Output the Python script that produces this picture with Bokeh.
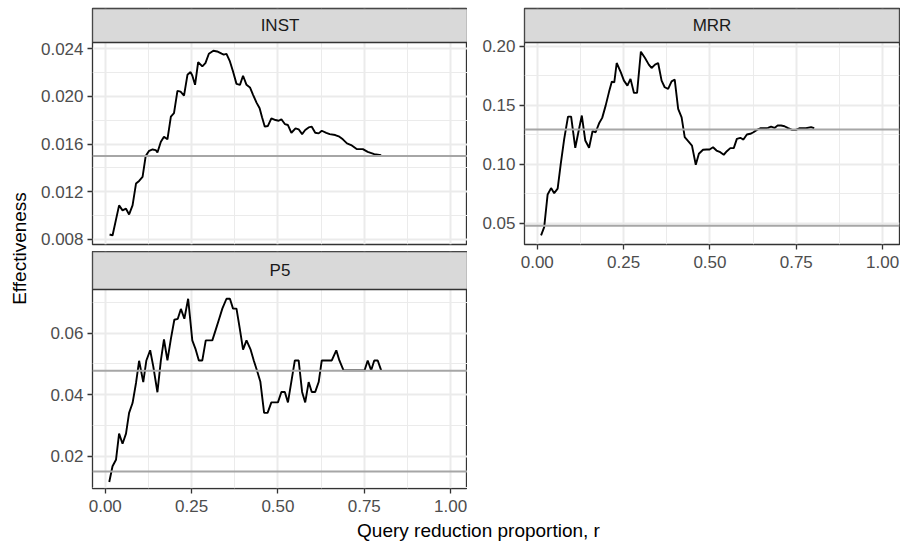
import math
from bokeh.plotting import figure
from bokeh.layouts import row, column
from bokeh.models import Range1d, FixedTicker, PrintfTickFormatter, Span
from bokeh.core.properties import value
from bokeh.embed import file_html
from bokeh.resources import INLINE

# ---------------- data ----------------
panel_names = ["INST", "MRR", "P5"]
x_ticks = [0.0, 0.25, 0.5, 0.75, 1.0]
x_minor = [0.125, 0.375, 0.625, 0.875]

inst_r = [0.0125, 0.021, 0.040, 0.050, 0.060, 0.069, 0.079, 0.089, 0.098, 0.108,
          0.117, 0.127, 0.137, 0.146, 0.151, 0.161, 0.170, 0.180, 0.190, 0.199,
          0.209, 0.218, 0.228, 0.238, 0.247, 0.252, 0.260, 0.269, 0.281, 0.290,
          0.300, 0.313, 0.324, 0.337, 0.343, 0.351, 0.361, 0.370, 0.380, 0.390,
          0.399, 0.409, 0.419, 0.428, 0.438, 0.447, 0.454, 0.462, 0.471, 0.481,
          0.493, 0.502, 0.510, 0.520, 0.529, 0.539, 0.551, 0.560, 0.570, 0.579,
          0.589, 0.598, 0.608, 0.618, 0.627, 0.640, 0.650, 0.666, 0.678, 0.688,
          0.700, 0.712, 0.728, 0.746, 0.760, 0.779, 0.799]
inst_v = [0.00842, 0.00834, 0.01086, 0.01044, 0.01058, 0.01010, 0.01086, 0.01269, 0.01291, 0.01325,
          0.01500, 0.01544, 0.01555, 0.01550, 0.01530, 0.01620, 0.01662, 0.01640, 0.01830, 0.01859,
          0.02046, 0.02040, 0.02007, 0.02181, 0.02204, 0.02175, 0.02097, 0.02288, 0.02251, 0.02279,
          0.02358, 0.02383, 0.02377, 0.02358, 0.02350, 0.02356, 0.02293, 0.02209, 0.02105, 0.02097,
          0.02173, 0.02097, 0.02075, 0.02013, 0.01948, 0.01900, 0.01825, 0.01746, 0.01752, 0.01816,
          0.01802, 0.01796, 0.01808, 0.01768, 0.01760, 0.01695, 0.01732, 0.01724, 0.01684, 0.01718,
          0.01740, 0.01746, 0.01695, 0.01690, 0.01712, 0.01695, 0.01684, 0.01676, 0.01662, 0.01640,
          0.01606, 0.01592, 0.01558, 0.01558, 0.01535, 0.01516, 0.01507]

mrr_r = [0.011, 0.020, 0.030, 0.040, 0.049, 0.059, 0.068, 0.078, 0.089, 0.098,
         0.110, 0.119, 0.129, 0.139, 0.150, 0.160, 0.169, 0.179, 0.188, 0.198,
         0.208, 0.216, 0.223, 0.230, 0.242, 0.251, 0.261, 0.270, 0.280, 0.289,
         0.300, 0.312, 0.323, 0.331, 0.341, 0.350, 0.360, 0.369, 0.379, 0.389,
         0.398, 0.408, 0.418, 0.427, 0.437, 0.448, 0.459, 0.468, 0.480, 0.490,
         0.499, 0.509, 0.519, 0.530, 0.540, 0.549, 0.559, 0.569, 0.578, 0.588,
         0.597, 0.607, 0.617, 0.626, 0.636, 0.646, 0.658, 0.668, 0.677, 0.687,
         0.696, 0.706, 0.716, 0.725, 0.738, 0.749, 0.759, 0.778, 0.793, 0.802]
mrr_v = [0.0396, 0.0466, 0.0743, 0.0797, 0.0754, 0.0792, 0.1003, 0.1215, 0.1404, 0.1404,
         0.1139, 0.1271, 0.1413, 0.1201, 0.1139, 0.1280, 0.1271, 0.1347, 0.1393, 0.1497,
         0.1616, 0.1701, 0.1695, 0.1859, 0.1780, 0.1709, 0.1667, 0.1724, 0.1605, 0.1605,
         0.1955, 0.1902, 0.1845, 0.1817, 0.1845, 0.1859, 0.1709, 0.1653, 0.1639, 0.1703,
         0.1718, 0.1470, 0.1398, 0.1229, 0.1195, 0.1158, 0.0995, 0.1088, 0.1122, 0.1125,
         0.1125, 0.1144, 0.1116, 0.1102, 0.1080, 0.1110, 0.1136, 0.1136, 0.1215, 0.1224,
         0.1209, 0.1252, 0.1258, 0.1271, 0.1291, 0.1305, 0.1305, 0.1308, 0.1319, 0.1308,
         0.1328, 0.1328, 0.1322, 0.1308, 0.1291, 0.1291, 0.1305, 0.1305, 0.1314, 0.1305]

p5_r = [0.0115, 0.021, 0.031, 0.040, 0.050, 0.060, 0.069, 0.079, 0.089, 0.098,
        0.110, 0.119, 0.130, 0.139, 0.151, 0.161, 0.170, 0.180, 0.190, 0.200,
        0.210, 0.219, 0.229, 0.240, 0.252, 0.262, 0.271, 0.281, 0.291, 0.300,
        0.310, 0.320, 0.329, 0.339, 0.351, 0.361, 0.370, 0.380, 0.390, 0.399,
        0.409, 0.421, 0.430, 0.440, 0.449, 0.460, 0.470, 0.481, 0.493, 0.500,
        0.510, 0.520, 0.529, 0.539, 0.549, 0.560, 0.570, 0.579, 0.589, 0.598,
        0.608, 0.618, 0.627, 0.637, 0.656, 0.669, 0.678, 0.690, 0.751, 0.760,
        0.770, 0.779, 0.789, 0.799]
p5_v = [0.0117, 0.0168, 0.0189, 0.0274, 0.0241, 0.0274, 0.0341, 0.0373, 0.0438, 0.0510,
        0.0441, 0.0511, 0.0544, 0.0492, 0.0408, 0.0511, 0.0579, 0.0511, 0.0581, 0.0643,
        0.0646, 0.0678, 0.0646, 0.0711, 0.0576, 0.0546, 0.0511, 0.0511, 0.0576, 0.0576,
        0.0576, 0.0611, 0.0643, 0.0679, 0.0711, 0.0711, 0.0679, 0.0679, 0.0611, 0.0546,
        0.0576, 0.0546, 0.0511, 0.0476, 0.0443, 0.0341, 0.0341, 0.0375, 0.0375, 0.0375,
        0.0409, 0.0409, 0.0375, 0.0443, 0.0511, 0.0511, 0.0409, 0.0375, 0.0441, 0.0409,
        0.0409, 0.0441, 0.0511, 0.0511, 0.0511, 0.0544, 0.0511, 0.0479, 0.0479, 0.0511,
        0.0479, 0.0511, 0.0511, 0.0479]

inst_base = [0.0150]
mrr_base = [0.1294, 0.0478]
p5_base = [0.0478, 0.0151]

inst_yticks = [0.008, 0.012, 0.016, 0.020, 0.024]
inst_yminor = [0.010, 0.014, 0.018, 0.022]
mrr_yticks = [0.05, 0.10, 0.15, 0.20]
mrr_yminor = [0.075, 0.125, 0.175]
p5_yticks = [0.02, 0.04, 0.06]
p5_yminor = [0.01, 0.03, 0.05, 0.07]

x_title = "Query reduction proportion, r"
y_title = "Effectiveness"

# ---------------- styling ----------------
FONT = "Liberation Sans"
TICK_PX = "17px"
TITLE_PX = "19px"
STRIP_PX = "17px"
BORDER = "#333333"
GRID = "#EBEBEB"
XR = (-0.037, 1.049)
FW = 375


def make_panel(name, r, v, bases, yr, yticks, yminor, yfmt, strip_h, panel_h,
               left, right, top, bottom, show_x):
    y0, y1 = yr
    # the facet strip sits on top of the panel, inside the same frame
    y_top = y1 + strip_h / panel_h * (y1 - y0)
    p = figure(frame_width=FW, frame_height=strip_h + panel_h,
               x_range=Range1d(*XR), y_range=Range1d(y0, y_top),
               output_backend="svg", toolbar_location=None,
               min_border_left=left, min_border_right=right,
               min_border_top=top, min_border_bottom=bottom,
               background_fill_color="white", border_fill_color="white",
               outline_line_color=BORDER, outline_line_width=1.3)
    xt = FixedTicker(ticks=x_ticks, minor_ticks=x_minor)
    yt = FixedTicker(ticks=yticks, minor_ticks=yminor)
    p.xaxis.ticker = xt
    p.yaxis.ticker = yt
    p.xgrid.ticker = xt
    p.ygrid.ticker = yt
    for g in (p.xgrid, p.ygrid):
        g.grid_line_color = GRID
        g.grid_line_width = 2
        g.minor_grid_line_color = GRID
        g.minor_grid_line_width = 1
    p.xaxis.formatter = PrintfTickFormatter(format="%.2f")
    p.yaxis.formatter = PrintfTickFormatter(format=yfmt)
    for ax in (p.xaxis, p.yaxis):
        ax.axis_line_color = None
        ax.major_tick_line_color = BORDER
        ax.major_tick_line_width = 1.3
        ax.major_tick_out = 5
        ax.major_tick_in = 0
        ax.minor_tick_line_color = None
        ax.major_label_standoff = 4
        ax.major_label_text_font = FONT
        ax.major_label_text_font_size = TICK_PX
        ax.major_label_text_color = "#4D4D4D"
    p.xaxis.major_label_standoff = 6
    p.xaxis.visible = show_x
    for b in bases:
        p.add_layout(Span(location=b, dimension="width", line_color="#A6A6A6", line_width=2))
    p.line(r, v, line_color="black", line_width=1.9)
    # strip
    p.quad(left=[XR[0]], right=[XR[1]], bottom=[y1], top=[y_top],
           fill_color="#D9D9D9", line_color=BORDER, line_width=1.3)
    p.text(x=[(XR[0] + XR[1]) / 2], y=[(y1 + y_top) / 2], text=[name],
           text_font=value(FONT), text_font_size=STRIP_PX, text_color="#1A1A1A",
           text_align="center", text_baseline="middle")
    return p


# left column (x 36..467)
L_LEFT, L_RIGHT = 56, 0
inst_p = make_panel(panel_names[0], inst_r, inst_v, inst_base, (0.00758, 0.02452),
                    inst_yticks, inst_yminor, "%.3f", 34, 202, L_LEFT, L_RIGHT, 8, 7, False)
p5_p = make_panel(panel_names[2], p5_r, p5_v, p5_base, (0.0096, 0.0741),
                  p5_yticks, p5_yminor, "%.2f", 38, 199, L_LEFT, L_RIGHT, 0, 30, True)

# right column (x 467..900)
R_LEFT, R_RIGHT = 57, 1
mrr_p = make_panel(panel_names[1], mrr_r, mrr_v, mrr_base, (0.0318, 0.2033),
                   mrr_yticks, mrr_yminor, "%.2f", 34, 202, R_LEFT, R_RIGHT, 8, 30, True)

# y-axis title
yt_fig = figure(width=36, height=518, x_range=Range1d(0, 36), y_range=Range1d(518, 0),
                output_backend="svg", toolbar_location=None,
                min_border=0, outline_line_color=None,
                background_fill_color="white", border_fill_color="white")
yt_fig.axis.visible = False
yt_fig.grid.visible = False
yt_fig.text(x=[19], y=[248], text=[y_title], angle=math.pi / 2,
            text_font=value(FONT), text_font_size=TITLE_PX, text_color="black",
            text_align="center", text_baseline="middle")

# x-axis title
xt_fig = figure(width=900, height=28, x_range=Range1d(0, 900), y_range=Range1d(28, 0),
                output_backend="svg", toolbar_location=None,
                min_border=0, outline_line_color=None,
                background_fill_color="white", border_fill_color="white")
xt_fig.axis.visible = False
xt_fig.grid.visible = False
xt_fig.text(x=[478], y=[12], text=[x_title],
            text_font=value(FONT), text_font_size=TITLE_PX, text_color="black",
            text_align="center", text_baseline="middle")

left_col = column(inst_p, p5_p, spacing=0)
right_col = column(mrr_p, spacing=0)
top = row(yt_fig, left_col, right_col, spacing=0)
layout = column(top, xt_fig, spacing=0)

open("out.html", "w").write(file_html(layout, INLINE))
